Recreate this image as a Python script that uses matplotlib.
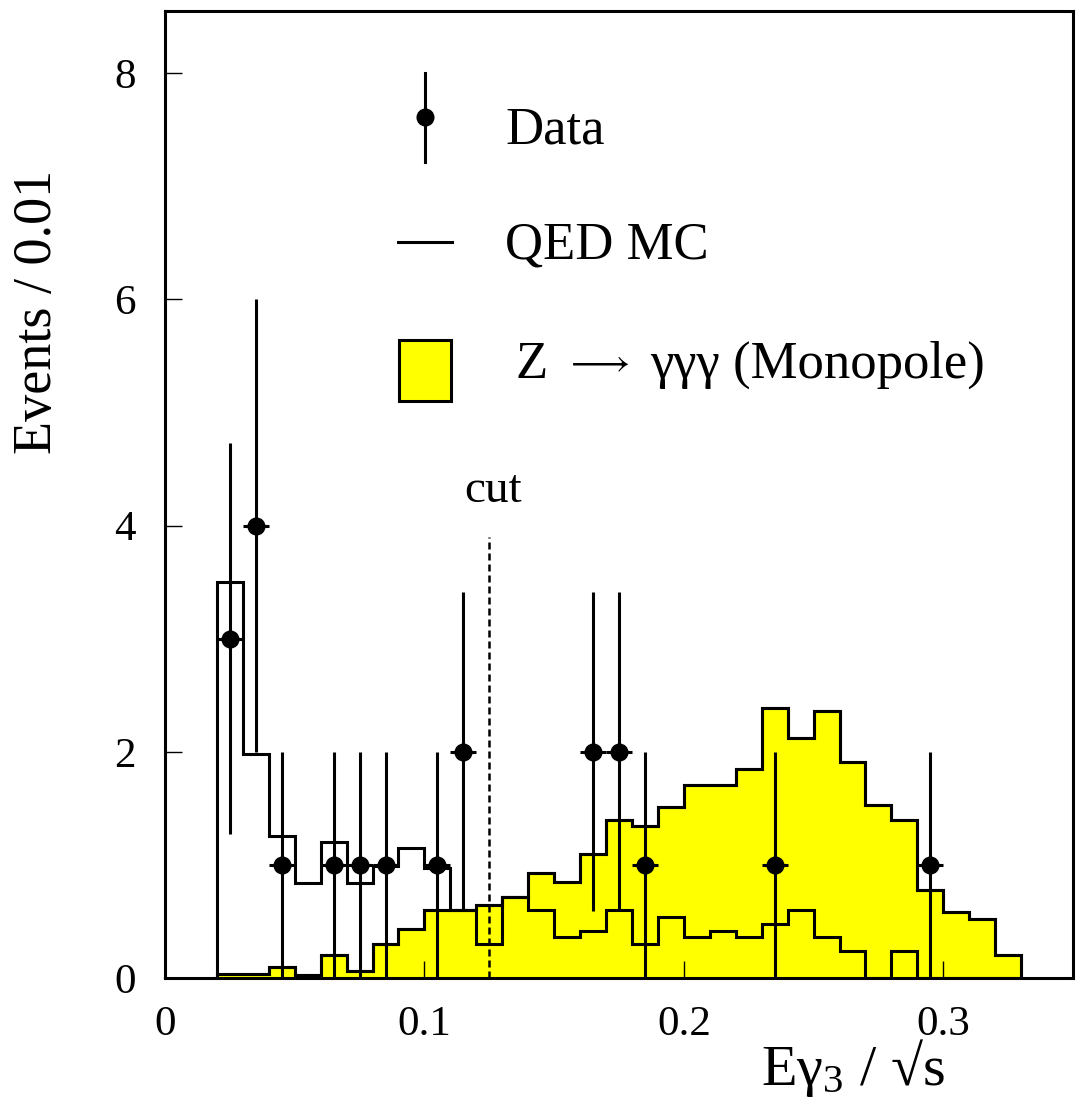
import numpy as np
import matplotlib
matplotlib.use('Agg')
import matplotlib.pyplot as plt
from matplotlib.patches import Rectangle
from matplotlib.lines import Line2D

plt.rcParams['font.family'] = ['Liberation Serif', 'DejaVu Serif']
plt.rcParams['mathtext.fontset'] = 'custom'
plt.rcParams['mathtext.rm'] = 'Liberation Serif'
plt.rcParams['mathtext.it'] = 'Liberation Serif'

# binning: 0.01 wide, from 0.02 to 0.33
bin_edges = np.round(np.arange(0.02, 0.3301, 0.01), 3)

# Z -> ggg (monopole) MC, yellow
mono_mc = [0.04, 0.04, 0.10, 0.03, 0.20, 0.06, 0.30, 0.43, 0.60, 0.60,
           0.645, 0.72, 0.93, 0.85, 1.10, 1.40, 1.34, 1.51, 1.71, 1.71,
           1.85, 2.39, 2.12, 2.36, 1.91, 1.53, 1.40, 0.78, 0.58, 0.52,
           0.20]

# QED MC, open histogram
qed_mc = [3.50, 1.98, 1.26, 0.84, 1.20, 0.84, 0.99, 1.15, 0.97, 0.60,
          0.30, 0.72, 0.60, 0.36, 0.42, 0.60, 0.30, 0.54, 0.36, 0.42,
          0.36, 0.48, 0.60, 0.36, 0.24, 0.00, 0.24, 0.00, 0.00, 0.00,
          0.00]

# data points
data_x = [0.025, 0.035, 0.045, 0.065, 0.075, 0.085, 0.105, 0.115,
          0.165, 0.175, 0.185, 0.235, 0.295]
data_y = [3, 4, 1, 1, 1, 1, 1, 2, 2, 2, 1, 1, 1]
data_err = [1.73, 2.0, 1.0, 1.0, 1.0, 1.0, 1.0, 1.41, 1.41, 1.41, 1.0, 1.0, 1.0]

cut_value = 0.125
cut_height = 3.9

fig = plt.figure(figsize=(10.77, 11.04), dpi=100)
ax = fig.add_axes([0.1532, 0.1141, 0.8431, 0.8759])

ax.stairs(mono_mc, bin_edges, fill=True, facecolor='#ffff00',
          edgecolor='black', linewidth=2.2)
ax.stairs(mono_mc, bin_edges, color='black', linewidth=2.2)
ax.stairs(qed_mc, bin_edges, color='black', linewidth=2.2)

ax.errorbar(data_x, data_y, yerr=data_err, xerr=0.005, fmt='o',
            color='black', ms=12, elinewidth=2.2, capsize=0, zorder=5)

ax.plot([cut_value, cut_value], [0, cut_height], color='black',
        linewidth=1.8, linestyle=(0, (2.8, 1.6)))
ax.text(cut_value + 0.0015, 4.21, 'cut', fontsize=34, ha='center',
        va='baseline')

# legend, drawn by hand in axes coordinates
tr = ax.transAxes
ax.add_line(Line2D([0.2863, 0.2863], [0.8438, 0.9359], color='black',
                   linewidth=2.2, transform=tr))
ax.plot([0.2863], [0.8904], 'o', color='black', ms=12, transform=tr)
ax.text(0.3744, 0.8635, 'Data', fontsize=38, transform=tr, va='baseline')
ax.add_line(Line2D([0.2566, 0.3161], [0.7611, 0.7611], color='black',
                   linewidth=2.2, transform=tr))
ax.text(0.3744, 0.7446, 'QED MC', fontsize=38, transform=tr, va='baseline')
ax.add_patch(Rectangle((0.2577, 0.5967), 0.0573, 0.0631, facecolor='#ffff00',
                       edgecolor='black', linewidth=2.2, transform=tr))
ax.text(0.3855, 0.6205, 'Z', fontsize=38, transform=tr, va='baseline')
ax.text(0.4410, 0.6265, '$\\longrightarrow$', fontsize=27, transform=tr,
        va='baseline', fontweight='bold')
ax.text(0.5341, 0.6205, '\u03b3\u03b3\u03b3 (Monopole)', fontsize=38,
        transform=tr, va='baseline')

ax.set_xlim(0, 0.35)
ax.set_ylim(0, 8.55)
ax.set_xticks([0, 0.1, 0.2, 0.3])
ax.set_xticklabels(['0', '0.1', '0.2', '0.3'])
ax.set_yticks([0, 2, 4, 6, 8])
ax.set_yticklabels(['0', '2', '4', '6', '8'])
ax.tick_params(direction='in', length=12, width=1.0, labelsize=31)
ax.tick_params(axis='x', pad=20)
ax.tick_params(axis='y', pad=21)
for sp in ax.spines.values():
    sp.set_linewidth(2.2)

ax.set_ylabel('Events / 0.01', fontsize=39)
ax.yaxis.set_label_coords(-0.112, 0.689)
ax.set_xlabel('E$\\mathrm{\\gamma}_{3}$ / \u221as', fontsize=42)
ax.xaxis.set_label_coords(0.757, -0.061)

fig.savefig('out.png', dpi=100)
